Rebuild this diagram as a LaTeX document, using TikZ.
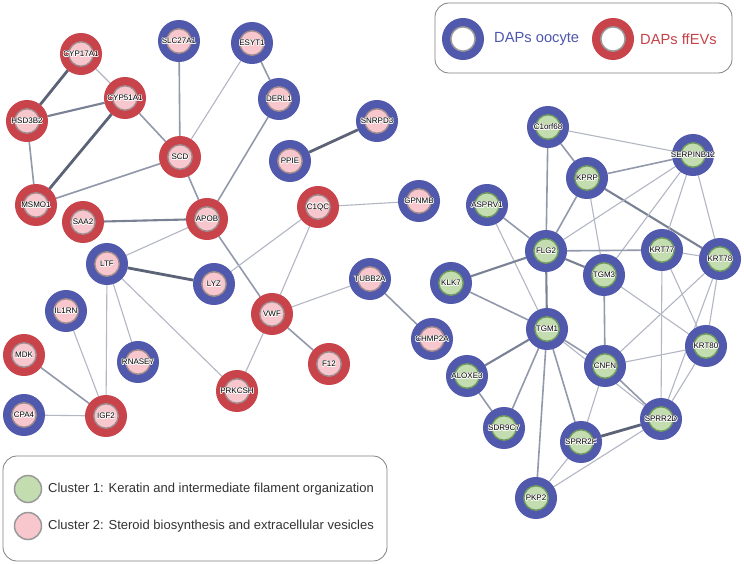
\documentclass[tikz,border=0pt]{standalone}
\usepackage{fontspec}
\setmainfont{Liberation Sans}
\usetikzlibrary{backgrounds}
\definecolor{ringblue}{HTML}{5159AD}
\definecolor{ringred}{HTML}{C8434A}
\definecolor{cPink}{HTML}{F8C6CD}
\definecolor{cPinkBd}{HTML}{A08C8E}
\definecolor{cGreen}{HTML}{C4DDB0}
\definecolor{cGreenBd}{HTML}{6E9A5E}
\definecolor{eLight}{HTML}{B3B7C4}
\definecolor{eMid}{HTML}{9299AB}
\definecolor{eHeavy}{HTML}{7A8195}
\definecolor{eDark}{HTML}{5C6377}
\definecolor{legblue}{HTML}{4E57AE}
\definecolor{legred}{HTML}{C6434A}
\newcommand{\haloshift}[3]{\makebox[0pt]{\raisebox{#2}{\kern#1\kern#1\textcolor{white}{#3}}}}
\newcommand{\halo}[1]{%
  \haloshift{0.75pt}{0pt}{#1}\haloshift{-0.75pt}{0pt}{#1}%
  \haloshift{0pt}{0.75pt}{#1}\haloshift{0pt}{-0.75pt}{#1}%
  \haloshift{0.55pt}{0.55pt}{#1}\haloshift{-0.55pt}{0.55pt}{#1}%
  \haloshift{0.55pt}{-0.55pt}{#1}\haloshift{-0.55pt}{-0.55pt}{#1}%
  \makebox[0pt]{#1}}
\begin{document}
\begin{tikzpicture}[x=1pt,y=-1pt,
  base/.style={circle, inner sep=0pt, minimum size=34pt, line width=8pt, text=black,
    font=\fontsize{8}{9}\selectfont,
    execute at begin node={\hbox to 0pt\bgroup\hss},
    execute at end node={\hss\egroup}},
  pinkcore/.style={path picture={\draw[draw=cPinkBd, line width=1.6pt, fill=cPink]
    (path picture bounding box.center) circle (12.3pt);}},
  greencore/.style={path picture={\draw[draw=cGreenBd, line width=1.6pt, fill=cGreen]
    (path picture bounding box.center) circle (12.3pt);}},
  whitecore/.style={path picture={\draw[draw=black!40, line width=1.8pt, fill=white]
    (path picture bounding box.center) circle (12.3pt);}},
  oo/.style={base, draw=ringblue, fill=ringblue, pinkcore},
  ev/.style={base, draw=ringred, fill=ringred, pinkcore},
  kc/.style={base, draw=ringblue, fill=ringblue, greencore},
  et/.style={draw=eLight, line width=1.1pt},
  em/.style={draw=eMid, line width=1.6pt},
  eh/.style={draw=eHeavy, line width=2.1pt},
  ek/.style={draw=eDark, line width=2.8pt},
  legbox/.style={draw=black!50, line width=0.8pt, rounded corners=14pt},
  legdot/.style={circle, inner sep=0pt, minimum size=27pt, draw=black!40, line width=1.5pt}
]
\useasboundingbox (0,0) rectangle (744,564);

% ---- left network ----
\node[ev] (CYP17A1) at (81,54) {\halo{CYP17A1}};
\node[ev] (CYP51A1) at (125,98) {\halo{CYP51A1}};
\node[ev] (HSD3B2) at (27,121) {\halo{HSD3B2}};
\node[oo] (SLC27A1) at (179,41) {\halo{SLC27A1}};
\node[oo] (ESYT1) at (252,43) {\halo{ESYT1}};
\node[ev] (SCD) at (180,157) {\halo{SCD}};
\node[oo] (DERL1) at (279,99) {\halo{DERL1}};
\node[oo] (SNRPD3) at (377,121) {\halo{SNRPD3}};
\node[oo] (PPIE) at (290,161) {\halo{PPIE}};
\node[ev] (MSMO1) at (36,205) {\halo{MSMO1}};
\node[ev] (SAA2) at (83,222) {\halo{SAA2}};
\node[ev] (APOB) at (207,219) {\halo{APOB}};
\node[oo] (LTF) at (107,264) {\halo{LTF}};
\node[oo] (LYZ) at (214,284) {\halo{LYZ}};
\node[oo] (IL1RN) at (66,311) {\halo{IL1RN}};
\node[ev] (MDK) at (24,355) {\halo{MDK}};
\node[oo] (RNASE7) at (138,362) {\halo{RNASE7}};
\node[ev] (C1QC) at (318,207) {\halo{C1QC}};
\node[oo] (GPNMB) at (419,201) {\halo{GPNMB}};
\node[oo] (TUBB2A) at (370,279) {\halo{TUBB2A}};
\node[ev] (VWF) at (272,314) {\halo{VWF}};
\node[ev] (F12) at (329,364) {\halo{F12}};
\node[oo] (CHMP2A) at (432,339) {\halo{CHMP2A}};
\node[ev] (PRKCSH) at (237,391) {\halo{PRKCSH}};
\node[ev] (IGF2) at (106,416) {\halo{IGF2}};
\node[oo] (CPA4) at (24,415) {\halo{CPA4}};

% ---- right network ----
\node[kc] (C1orf68) at (548,127) {\halo{C1orf68}};
\node[kc] (SERPINB12) at (693,155) {\halo{SERPINB12}};
\node[kc] (KPRP) at (587,178) {\halo{KPRP}};
\node[kc] (ASPRV1) at (487,205) {\halo{ASPRV1}};
\node[kc] (FLG2) at (546,251) {\halo{FLG2}};
\node[kc] (KRT77) at (662,250) {\halo{KRT77}};
\node[kc] (KRT78) at (720,259) {\halo{KRT78}};
\node[kc] (TGM3) at (604,275) {\halo{TGM3}};
\node[kc] (KLK7) at (451,283) {\halo{KLK7}};
\node[kc] (TGM1) at (547,329) {\halo{TGM1}};
\node[kc] (KRT80) at (706,346) {\halo{KRT80}};
\node[kc] (CNFN) at (605,366) {\halo{CNFN}};
\node[kc] (ALOXE3) at (467,376) {\halo{ALOXE3}};
\node[kc] (SDR9C7) at (504,428) {\halo{SDR9C7}};
\node[kc] (SPRR2D) at (661,419) {\halo{SPRR2D}};
\node[kc] (SPRR2F) at (581,442) {\halo{SPRR2F}};
\node[kc] (PKP2) at (536,498) {\halo{PKP2}};

% ---- legends ----
\draw[legbox] (435,3) rectangle (732,73);
\node[base, draw=ringblue, fill=ringblue, whitecore] (LgOo) at (463,39) {};
\node[anchor=west, text=legblue, font=\fontsize{14.7}{16}\selectfont, inner sep=0pt] (LgOoT) at (494,39) {DAPs oocyte};
\node[base, draw=ringred, fill=ringred, whitecore] (LgEv) at (613,39) {};
\node[anchor=west, text=legred, font=\fontsize{14.7}{16}\selectfont, inner sep=0pt] (LgEvT) at (640,39) {DAPs ffEVs};

\draw[legbox] (3,456) rectangle (387,561);
\node[legdot, fill=cGreen] (LgC1) at (28,489) {};
\node[anchor=west, text=black!80, font=\fontsize{13}{15}\selectfont, inner sep=0pt] (LgC1T) at (48,489) {Cluster 1: Keratin and intermediate filament organization};
\node[legdot, fill=cPink] (LgC2) at (28,526) {};
\node[anchor=west, text=black!80, font=\fontsize{13}{15}\selectfont, inner sep=0pt] (LgC2T) at (48,526) {Cluster 2: Steroid biosynthesis and extracellular vesicles};

\begin{scope}[on background layer]
\fill[white] (0,0) rectangle (744,564);
% left edges
\draw[ek] (CYP17A1) -- (HSD3B2);
\draw[et] (CYP17A1) -- (CYP51A1);
\draw[eh] (HSD3B2) -- (CYP51A1);
\draw[em] (HSD3B2) -- (MSMO1);
\draw[ek] (CYP51A1) -- (MSMO1);
\draw[em] (CYP51A1) -- (SCD);
\draw[em] (SLC27A1) -- (SCD);
\draw[et] (ESYT1) -- (SCD);
\draw[em] (ESYT1) -- (DERL1);
\draw[em] (DERL1) -- (APOB);
\draw[em] (SCD) -- (MSMO1);
\draw[em] (SCD) -- (APOB);
\draw[ek] (SNRPD3) -- (PPIE);
\draw[eh] (SAA2) -- (APOB);
\draw[et] (APOB) -- (LTF);
\draw[em] (APOB) -- (VWF);
\draw[ek] (LTF) -- (LYZ);
\draw[et] (LYZ) -- (C1QC);
\draw[et] (C1QC) -- (GPNMB);
\draw[et] (C1QC) -- (VWF);
\draw[et] (VWF) -- (TUBB2A);
\draw[em] (VWF) -- (F12);
\draw[et] (VWF) -- (PRKCSH);
\draw[em] (TUBB2A) -- (CHMP2A);
\draw[et] (LTF) -- (RNASE7);
\draw[et] (LTF) -- (IGF2);
\draw[et] (LTF) -- (PRKCSH);
\draw[et] (IL1RN) -- (IGF2);
\draw[em] (MDK) -- (IGF2);
\draw[et] (CPA4) -- (IGF2);
% right edges
\draw[et] (C1orf68) -- (SERPINB12);
\draw[em] (C1orf68) -- (KPRP);
\draw[em] (C1orf68) -- (FLG2);
\draw[em] (KPRP) -- (SERPINB12);
\draw[em] (KPRP) -- (FLG2);
\draw[et] (KPRP) -- (TGM3);
\draw[eh] (KPRP) -- (KRT78);
\draw[et] (SERPINB12) -- (FLG2);
\draw[et] (SERPINB12) -- (TGM3);
\draw[et] (SERPINB12) -- (KRT77);
\draw[et] (SERPINB12) -- (KRT78);
\draw[em] (ASPRV1) -- (FLG2);
\draw[et] (ASPRV1) -- (TGM1);
\draw[eh] (FLG2) -- (KLK7);
\draw[eh] (FLG2) -- (TGM1);
\draw[eh] (FLG2) -- (TGM3);
\draw[em] (FLG2) -- (KRT77);
\draw[et] (KRT77) -- (KRT78);
\draw[et] (KRT77) -- (SPRR2D);
\draw[et] (KRT77) -- (KRT80);
\draw[em] (TGM3) -- (CNFN);
\draw[et] (TGM3) -- (KRT80);
\draw[et] (KRT78) -- (CNFN);
\draw[et] (KRT78) -- (KRT80);
\draw[et] (KRT78) -- (SPRR2D);
\draw[em] (TGM1) -- (KLK7);
\draw[eh] (TGM1) -- (ALOXE3);
\draw[em] (TGM1) -- (SDR9C7);
\draw[em] (TGM1) -- (PKP2);
\draw[em] (TGM1) -- (SPRR2F);
\draw[em] (TGM1) -- (CNFN);
\draw[et] (TGM1) -- (SPRR2D);
\draw[em] (ALOXE3) -- (SDR9C7);
\draw[et] (CNFN) -- (KRT80);
\draw[et] (CNFN) -- (SPRR2F);
\draw[em] (CNFN) -- (SPRR2D);
\draw[ek] (SPRR2F) -- (SPRR2D);
\draw[et] (SPRR2F) -- (PKP2);
\draw[et] (SPRR2D) -- (PKP2);
\draw[et] (SPRR2D) -- (KRT80);
\end{scope}
\end{tikzpicture}
\end{document}
